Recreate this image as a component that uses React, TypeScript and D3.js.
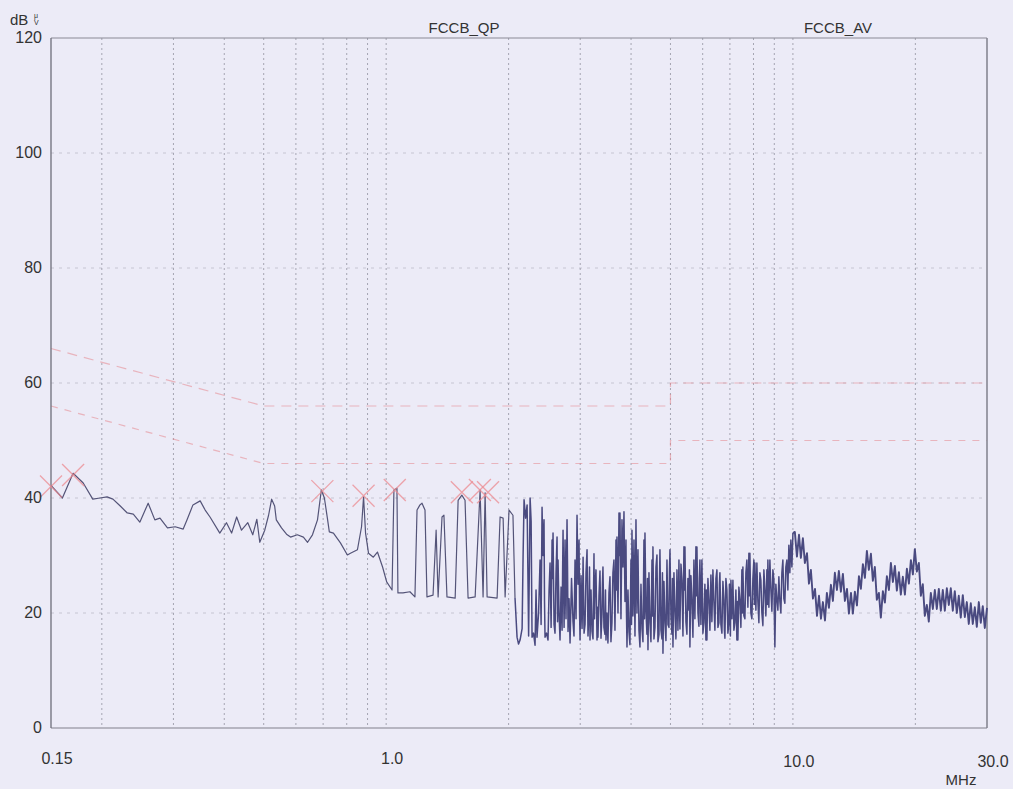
import React from "react";
import * as d3 from "d3";

// axis ticks / grid
const freqLabelValues = [0.15, 1, 10, 30];
const freqLabelTexts = ["0.15", "1.0", "10.0", "30.0"];
const levelTicks = [0, 20, 40, 60, 80, 100, 120];
const freqGrid = [0.2, 0.3, 0.4, 0.5, 0.6, 0.7, 0.8, 0.9, 1, 2, 3, 4, 5, 6, 7, 8, 9, 10, 20];
const levelGrid = [20, 40, 60, 80, 100];

// limit lines (MHz, dBuV)
const qpLimit = [[0.15, 66], [0.5, 56], [5, 56], [5, 60], [30, 60]];
const avLimit = [[0.15, 56], [0.5, 46], [5, 46], [5, 50], [30, 50]];
const limitNames = ["FCCB_QP", "FCCB_AV"];

// peak markers (MHz, dBuV)
const peakMarks = [
  [0.15, 42.0], [0.17, 44.0], [0.697, 41.2], [0.88, 40.4],
  [1.05, 41.4], [1.535, 41.0], [1.7, 41.4], [1.78, 41.0],
];

// measured trace 0.15 - 1 MHz
const traceLow = [
  [0.150, 42.2], [0.160, 40.0], [0.170, 44.3], [0.180, 42.6], [0.190, 39.8], [0.198, 40.0],
  [0.206, 40.2], [0.213, 39.8], [0.222, 38.6], [0.231, 37.4], [0.239, 37.2], [0.248, 35.8],
  [0.260, 39.1], [0.270, 36.2], [0.278, 36.5], [0.290, 34.8], [0.303, 35.0], [0.317, 34.6],
  [0.324, 36.2], [0.335, 38.8], [0.349, 39.5], [0.359, 37.9], [0.369, 36.7], [0.390, 33.9],
  [0.405, 35.7], [0.417, 33.9], [0.429, 36.7], [0.441, 34.4], [0.457, 35.7], [0.470, 33.6],
  [0.481, 36.3], [0.489, 32.3], [0.503, 34.4], [0.514, 37.0], [0.523, 39.8], [0.532, 38.6],
  [0.537, 36.2], [0.553, 34.8], [0.569, 33.7], [0.582, 33.2], [0.605, 33.6], [0.626, 33.2],
  [0.641, 32.3], [0.659, 33.6], [0.678, 36.2], [0.693, 41.4], [0.705, 40.0], [0.717, 36.5],
  [0.725, 34.1], [0.742, 33.9], [0.772, 32.2], [0.803, 30.1], [0.817, 30.4], [0.850, 31.0],
  [0.870, 35.0], [0.880, 40.2], [0.890, 33.9], [0.905, 30.4], [0.930, 29.7], [0.952, 30.6],
  [0.980, 28.0], [1.003, 25.4],
];

// 1 - 2 MHz
const traceMid = [
  [1.034, 24.0], [1.045, 41.4], [1.063, 41.7], [1.069, 23.5], [1.100, 23.5], [1.144, 23.7],
  [1.177, 22.8], [1.191, 37.9], [1.211, 38.8], [1.225, 39.1], [1.246, 37.9], [1.260, 22.8],
  [1.304, 23.1], [1.327, 34.4], [1.342, 22.8], [1.372, 36.7], [1.387, 37.0], [1.411, 22.8],
  [1.478, 22.6], [1.503, 39.6], [1.535, 40.5], [1.563, 39.6], [1.590, 22.6], [1.655, 22.8],
  [1.702, 41.4], [1.731, 22.8], [1.751, 40.9], [1.771, 22.8], [1.874, 22.6], [1.906, 36.7],
  [1.939, 36.5], [1.961, 22.8], [2.005, 37.9], [2.050, 37.0], [2.074, 22.6],
];

// 2 - 10 MHz
const traceDense = [
  [2.098, 15.8], [2.116, 14.6], [2.134, 15.3], [2.159, 17.3], [2.171, 30.0], [2.183, 39.7],
  [2.202, 36.5], [2.221, 38.8], [2.240, 16.0], [2.259, 40.0], [2.272, 36.0], [2.284, 15.8],
  [2.303, 16.5], [2.323, 14.4], [2.336, 24.0], [2.349, 15.8], [2.370, 20.0], [2.390, 29.2],
  [2.404, 18.0], [2.417, 38.4], [2.430, 30.0], [2.444, 36.2], [2.451, 22.0], [2.458, 15.8],
  [2.479, 16.5], [2.500, 15.3], [2.515, 24.0], [2.529, 28.7], [2.544, 17.5], [2.558, 32.7],
  [2.565, 26.0], [2.572, 33.9], [2.587, 18.0], [2.601, 16.5], [2.616, 27.0], [2.631, 33.2],
  [2.639, 18.5], [2.646, 29.2], [2.661, 20.0], [2.676, 15.3], [2.692, 24.5], [2.707, 17.0],
  [2.715, 27.0], [2.722, 34.4], [2.738, 17.5], [2.753, 32.7], [2.768, 19.0], [2.784, 36.2],
  [2.792, 28.0], [2.800, 16.8], [2.816, 22.5], [2.832, 14.8], [2.856, 26.0], [2.880, 18.5],
  [2.896, 16.0], [2.913, 29.2], [2.930, 19.0], [2.946, 37.0], [2.963, 25.0], [2.980, 32.7],
  [2.989, 20.0], [2.997, 15.3], [3.014, 26.5], [3.031, 17.3], [3.040, 22.0], [3.049, 29.7],
  [3.066, 16.5], [3.083, 18.0], [3.100, 27.0], [3.118, 31.0], [3.135, 16.0], [3.153, 20.7],
  [3.162, 28.0], [3.171, 15.3], [3.189, 24.0], [3.207, 16.8], [3.225, 15.5], [3.243, 30.3],
  [3.252, 19.0], [3.262, 24.5], [3.280, 27.5], [3.299, 15.3], [3.308, 21.0], [3.317, 15.8],
  [3.336, 23.0], [3.355, 27.3], [3.374, 15.6], [3.393, 19.7], [3.402, 25.0], [3.412, 28.0],
  [3.431, 17.5], [3.451, 16.3], [3.461, 24.0], [3.471, 15.3], [3.490, 20.0], [3.510, 14.8],
  [3.530, 23.5], [3.550, 26.3], [3.570, 15.0], [3.590, 18.3], [3.610, 27.0], [3.631, 29.2],
  [3.652, 17.0], [3.673, 32.7], [3.683, 24.0], [3.694, 33.2], [3.715, 20.0], [3.736, 37.4],
  [3.746, 30.0], [3.757, 37.4], [3.778, 19.0], [3.800, 36.2], [3.821, 28.0], [3.843, 37.6],
  [3.865, 22.0], [3.887, 32.7], [3.898, 20.0], [3.909, 14.1], [3.931, 24.0], [3.953, 16.8],
  [3.975, 14.5], [3.998, 29.2], [4.010, 18.0], [4.021, 34.4], [4.044, 19.5], [4.067, 32.7],
  [4.090, 16.0], [4.113, 36.2], [4.136, 20.0], [4.160, 31.0], [4.183, 17.0], [4.207, 14.1],
  [4.231, 25.0], [4.255, 17.3], [4.279, 15.0], [4.303, 32.7], [4.315, 19.0], [4.328, 33.9],
  [4.352, 20.5], [4.377, 16.3], [4.390, 26.0], [4.402, 13.6], [4.427, 27.0], [4.452, 18.3],
  [4.477, 15.0], [4.503, 29.2], [4.515, 19.5], [4.528, 31.5], [4.554, 15.5], [4.580, 17.5],
  [4.606, 28.0], [4.632, 30.1], [4.658, 15.0], [4.685, 16.3], [4.698, 25.0], [4.711, 31.0],
  [4.738, 17.0], [4.765, 15.5], [4.778, 27.0], [4.792, 13.0], [4.819, 25.5], [4.847, 18.3],
  [4.874, 15.2], [4.902, 29.2], [4.930, 18.0], [4.957, 17.5], [4.971, 27.0], [4.986, 31.0],
  [5.014, 19.5], [5.042, 16.3], [5.056, 26.0], [5.071, 14.1], [5.099, 27.0], [5.128, 20.3],
  [5.157, 15.5], [5.187, 27.5], [5.216, 17.0], [5.246, 29.2], [5.261, 21.0], [5.276, 17.2],
  [5.306, 28.5], [5.336, 25.7], [5.366, 16.0], [5.396, 31.5], [5.411, 24.0], [5.427, 31.5],
  [5.457, 18.5], [5.488, 16.3], [5.519, 26.0], [5.551, 20.5], [5.566, 27.5], [5.582, 14.1],
  [5.614, 26.5], [5.646, 22.3], [5.678, 15.8], [5.710, 29.2], [5.742, 19.0], [5.775, 31.5],
  [5.791, 23.0], [5.808, 31.5], [5.841, 20.0], [5.874, 17.7], [5.890, 26.0], [5.907, 29.2],
  [5.940, 18.0], [5.974, 29.2], [6.008, 16.5], [6.042, 18.3], [6.076, 25.0], [6.111, 15.3],
  [6.128, 24.0], [6.146, 15.3], [6.181, 26.0], [6.216, 22.3], [6.251, 17.0], [6.286, 26.6],
  [6.322, 18.5], [6.358, 27.5], [6.394, 22.0], [6.430, 17.0], [6.467, 26.0], [6.504, 27.5],
  [6.541, 17.5], [6.578, 18.3], [6.596, 25.0], [6.615, 27.0], [6.652, 18.0], [6.690, 16.5],
  [6.728, 25.5], [6.766, 22.3], [6.785, 17.0], [6.805, 15.6], [6.843, 26.0], [6.882, 24.0],
  [6.921, 16.5], [6.960, 18.3], [6.980, 25.0], [7.000, 20.5], [7.020, 16.0], [7.040, 25.7],
  [7.080, 19.0], [7.120, 25.7], [7.160, 17.0], [7.200, 18.3], [7.241, 24.0], [7.282, 15.3],
  [7.303, 22.0], [7.324, 15.3], [7.365, 24.5], [7.407, 22.3], [7.449, 17.5], [7.491, 27.5],
  [7.512, 20.0], [7.534, 28.0], [7.577, 19.5], [7.620, 19.0], [7.663, 27.0], [7.706, 29.2],
  [7.750, 21.0], [7.794, 30.4], [7.816, 23.0], [7.838, 30.4], [7.882, 20.0], [7.927, 19.0],
  [7.972, 26.0], [8.017, 29.2], [8.040, 21.5], [8.063, 28.7], [8.109, 20.5], [8.155, 28.7],
  [8.201, 22.0], [8.248, 18.3], [8.295, 27.0], [8.342, 25.7], [8.389, 20.0], [8.437, 17.8],
  [8.485, 27.5], [8.533, 24.0], [8.581, 19.5], [8.630, 27.5], [8.654, 21.5], [8.679, 29.2],
  [8.728, 21.0], [8.778, 29.2], [8.828, 24.0], [8.878, 20.3], [8.928, 27.5], [8.979, 25.7],
  [9.004, 19.0], [9.029, 14.1], [9.080, 25.0], [9.132, 22.3], [9.184, 20.5], [9.236, 26.3],
  [9.288, 22.0], [9.341, 20.0], [9.394, 27.0], [9.447, 29.2], [9.500, 22.5], [9.554, 21.7],
  [9.608, 28.0], [9.663, 29.2], [9.718, 24.0], [9.773, 31.8], [9.828, 27.0], [9.884, 32.7],
  [9.942, 28.0], [10.0, 33.9],
];

// 10 - 30 MHz
const traceHigh = [
  [10.11, 34.1], [10.23, 29.8], [10.35, 33.6], [10.46, 29.6], [10.58, 33.0], [10.70, 28.7],
  [10.83, 30.4], [10.95, 25.1], [11.07, 27.5], [11.20, 22.5], [11.33, 24.2], [11.46, 19.5],
  [11.59, 23.0], [11.72, 19.0], [11.85, 21.9], [11.99, 18.7], [12.12, 23.5], [12.26, 20.9],
  [12.40, 24.9], [12.54, 22.1], [12.68, 27.0], [12.83, 24.0], [12.97, 27.3], [13.12, 23.7],
  [13.27, 26.8], [13.42, 22.1], [13.58, 24.2], [13.73, 19.9], [13.89, 23.5], [14.04, 19.9],
  [14.20, 23.7], [14.37, 21.3], [14.53, 26.4], [14.69, 24.2], [14.86, 28.5], [15.03, 26.1],
  [15.20, 30.8], [15.37, 27.5], [15.55, 30.3], [15.72, 25.6], [15.90, 28.0], [16.08, 22.3],
  [16.27, 23.5], [16.45, 19.2], [16.64, 23.8], [16.83, 21.8], [17.02, 26.4], [17.22, 24.0],
  [17.41, 28.7], [17.61, 25.4], [17.81, 28.2], [18.01, 23.9], [18.22, 27.1], [18.42, 23.2],
  [18.63, 26.3], [18.85, 23.2], [19.06, 27.7], [19.28, 25.1], [19.50, 29.2], [19.72, 26.7],
  [19.94, 31.1], [20.17, 27.2], [20.40, 28.7], [20.63, 23.0], [20.86, 25.0], [21.10, 19.5],
  [21.34, 21.4], [21.58, 18.5], [21.83, 23.5], [22.08, 20.7], [22.33, 24.0], [22.58, 20.7],
  [22.84, 24.2], [23.10, 20.4], [23.36, 24.0], [23.63, 20.4], [23.90, 24.3], [24.17, 21.4],
  [24.44, 24.3], [24.72, 20.4], [25.00, 23.8], [25.29, 20.0], [25.57, 23.0], [25.86, 19.2],
  [26.16, 23.1], [26.46, 19.3], [26.76, 21.9], [27.06, 18.1], [27.37, 21.7], [27.68, 18.1],
  [28.00, 21.0], [28.32, 17.6], [28.64, 21.9], [28.96, 18.3], [29.29, 21.2], [29.63, 17.4],
  [30.0, 20.9],
];

const FONT = "'Liberation Sans', Arial, Helvetica, sans-serif";

export default function App() {
  const width = 1013;
  const height = 789;
  const margin = { top: 38, right: 26, bottom: 61, left: 51 };
  const innerWidth = width - margin.left - margin.right;
  const innerHeight = height - margin.top - margin.bottom;

  const x = d3.scaleLog().domain([0.15, 30]).range([0, innerWidth]);
  const y = d3.scaleLinear().domain([0, 120]).range([innerHeight, 0]);

  const line = d3
    .line()
    .x((d) => x(d[0]))
    .y((d) => y(d[1]));

  const sparse = [...traceLow, ...traceMid];
  const dense = [traceMid[traceMid.length - 1], ...traceDense];
  const high = [traceDense[traceDense.length - 1], ...traceHigh];

  return (
    <svg
      width={width}
      height={height}
      style={{ position: "absolute", left: 0, top: 0, display: "block", background: "#ecebf7" }}
    >
      <rect x={0} y={0} width={width} height={height} fill="#ecebf7" />
      <g transform={`translate(${margin.left},${margin.top})`}>
        {/* grid */}
        {freqGrid.map((f) => (
          <line
            key={"v" + f}
            x1={x(f)}
            x2={x(f)}
            y1={0}
            y2={innerHeight}
            stroke="#8e8e9c"
            strokeWidth={1}
            strokeDasharray="2,3"
            opacity={0.75}
          />
        ))}
        {levelGrid.map((v) => (
          <line
            key={"h" + v}
            x1={0}
            x2={innerWidth}
            y1={y(v)}
            y2={y(v)}
            stroke="#9a9aa8"
            strokeWidth={1}
            strokeDasharray="3,5"
            opacity={0.45}
          />
        ))}

        {/* limit lines */}
        <path d={line(qpLimit)} fill="none" stroke="#e6868e" strokeWidth={1.2} strokeDasharray="10,7" opacity={0.55} />
        <path d={line(avLimit)} fill="none" stroke="#e6868e" strokeWidth={1.2} strokeDasharray="7,7" opacity={0.55} />

        {/* frame */}
        <line x1={0} x2={innerWidth} y1={0} y2={0} stroke="#8a8a96" strokeWidth={1.2} />
        <line x1={innerWidth} x2={innerWidth} y1={0} y2={innerHeight} stroke="#80808c" strokeWidth={1.5} />
        <line x1={0} x2={innerWidth} y1={innerHeight} y2={innerHeight} stroke="#80808c" strokeWidth={1.2} />
        <line x1={0} x2={0} y1={0} y2={innerHeight} stroke="#6e6e7a" strokeWidth={1.3} />

        {/* trace */}
        <path d={line(sparse)} fill="none" stroke="#545478" strokeWidth={1.2} strokeLinejoin="round" />
        <path d={line(dense)} fill="none" stroke="#4a4a80" strokeWidth={1.5} strokeLinejoin="round" />
        <path d={line(high)} fill="none" stroke="#4a4a80" strokeWidth={1.9} strokeLinejoin="round" />

        {/* peak markers */}
        {peakMarks.map((p, i) => (
          <g key={"m" + i} transform={`translate(${x(p[0])},${y(p[1])})`} stroke="#ec8a90" strokeWidth={1.3} opacity={0.75}>
            <line x1={-11} y1={-11} x2={11} y2={11} />
            <line x1={-11} y1={11} x2={11} y2={-11} />
          </g>
        ))}

        {/* y labels */}
        {levelTicks.map((v) => (
          <text
            key={"yl" + v}
            x={-9}
            y={y(v) + 5}
            textAnchor="end"
            fontFamily={FONT}
            fontSize={16}
            fill="#333"
          >
            {v}
          </text>
        ))}

        {/* x labels */}
        {freqLabelValues.map((f, i) => (
          <text
            key={"xl" + f}
            x={x(f) + 6}
            y={innerHeight + (f >= 10 ? 39 : 36)}
            textAnchor="middle"
            fontFamily={FONT}
            fontSize={16}
            fill="#333"
          >
            {freqLabelTexts[i]}
          </text>
        ))}
        <text x={innerWidth - 26} y={innerHeight + 57} textAnchor="middle" fontFamily={FONT} fontSize={15} fill="#333">
          MHz
        </text>

        {/* limit names */}
        <text x={413} y={-5} textAnchor="middle" fontFamily={FONT} fontSize={15} fill="#333">
          {limitNames[0]}
        </text>
        <text x={787} y={-5} textAnchor="middle" fontFamily={FONT} fontSize={15} fill="#333">
          {limitNames[1]}
        </text>
      </g>

      {/* unit */}
      <text x={10} y={25} fontFamily={FONT} fontSize={15} fill="#333">
        dB
      </text>
      <text x={34} y={18} fontFamily={FONT} fontSize={7} fill="#333">
        μ
      </text>
      <text x={34} y={25} fontFamily={FONT} fontSize={7} fill="#333">
        V
      </text>
    </svg>
  );
}
